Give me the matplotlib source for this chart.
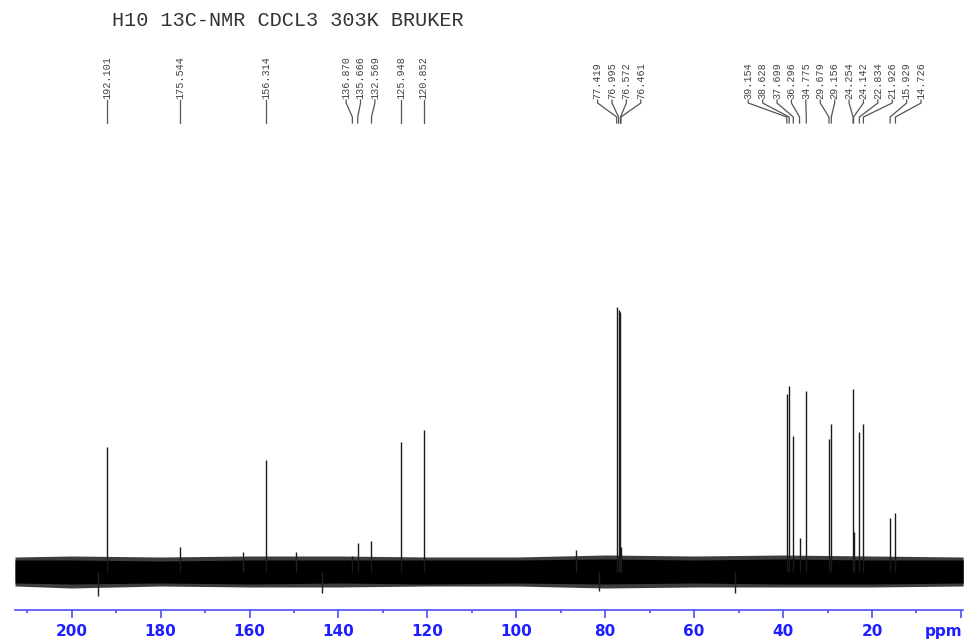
import matplotlib.pyplot as plt
from matplotlib.transforms import blended_transform_factory

# peak list (ppm) and peak heights (arbitrary units)
peak_ppm = [192.101, 175.544, 156.314, 136.870, 135.666, 132.569, 125.948, 120.852,
            77.419, 76.995, 76.572, 76.461,
            39.154, 38.628, 37.699, 36.296, 34.775, 29.679, 29.156,
            24.254, 24.142, 22.834, 21.926, 15.929, 14.726]
peak_height = [125, 25, 112, 16, 29, 31, 130, 142,
               265, 262, 260, 25,
               178, 186, 136, 34, 181, 133, 148,
               183, 40, 140, 148, 54, 59]

# baseline noise envelope
noise_ppm = [212.75, 200, 180, 160, 140, 120, 100, 80, 60, 40, 20, -0.5]
noise_hi = [12, 12, 11, 12, 12, 12, 12, 13, 12, 13, 12, 12]
noise_lo = [-11, -12, -11, -12, -11, -12, -11, -12, -11, -12, -12, -11]
noise_hi2 = [15, 16, 15, 16, 16, 15, 15, 17, 16, 17, 16, 15]
noise_lo2 = [-14, -16, -14, -15, -15, -14, -14, -16, -15, -15, -15, -14]

# a few isolated noise spikes
spike_ppm = [161.5, 149.5, 86.5, 194.1, 143.7, 81.4, 50.7]
spike_height = [20, 20, 22, -24, -21, -19, -21]

title = "H10 13C-NMR CDCL3 303K BRUKER"
tick_vals = [0, 20, 40, 60, 80, 100, 120, 140, 160, 180, 200]

W, H = 966, 641
fig = plt.figure(figsize=(W / 100, H / 100), dpi=100)
ax = fig.add_axes([15 / W, (H - 610) / H, (963 - 15) / W, (610 - 130) / H])
ax.set_xlim(212.75, -0.47)
ax.set_ylim(-38, 442)

blue = "#1e1eff"
axblue = "#4b4bff"

ax.fill_between(noise_ppm, noise_lo2, noise_hi2, color="#3c3c3c", lw=0)
ax.fill_between(noise_ppm, noise_lo, noise_hi, color="black", lw=0)
ax.vlines(spike_ppm, 0, spike_height, color="#222222", lw=1)
ax.vlines(peak_ppm, 0, peak_height, color="#1a1a1a", lw=1)

for s in ["top", "left", "right"]:
    ax.spines[s].set_visible(False)
ax.spines["bottom"].set_color(axblue)
ax.spines["bottom"].set_linewidth(1.2)
ax.set_yticks([])
ax.set_xticks(tick_vals)
ax.set_xticklabels([""] + [str(t) for t in tick_vals[1:]])
ax.set_xticks(range(10, 211, 20), minor=True)
ax.tick_params(axis="x", which="major", direction="out", length=6, width=1.2,
               color=axblue, labelcolor=blue, pad=4)
ax.tick_params(axis="x", which="minor", direction="out", length=2.5, width=1.2,
               color=axblue)
for lab in ax.get_xticklabels():
    lab.set_fontweight("bold")
    lab.set_fontsize(11)
    lab.set_fontfamily("DejaVu Sans")
# put "ppm" in line with the tick labels
ax.annotate("ppm", xy=(-0.3, 0), xycoords=("data", "axes fraction"),
            xytext=(0, -10), textcoords="offset points",
            ha="right", va="top", color=blue, fontsize=11, fontweight="bold")

# spread the peak labels so they don't overlap
gap = 14.4 / 4.446
order = sorted(range(len(peak_ppm)), key=lambda i: -peak_ppm[i])
clusters = [[i] for i in order]


def positions(cl):
    c = sum(peak_ppm[i] for i in cl) / len(cl)
    n = len(cl)
    return [c + gap * ((n - 1) / 2 - k) for k in range(n)]


merged = True
while merged:
    merged = False
    for j in range(len(clusters) - 1):
        if positions(clusters[j])[-1] - positions(clusters[j + 1])[0] < gap:
            clusters[j] = clusters[j] + clusters[j + 1]
            del clusters[j + 1]
            merged = True
            break

tr = blended_transform_factory(ax.transData, fig.transFigure)


def fy(px):
    return (H - px) / H


for cl in clusters:
    for i, lx in zip(cl, positions(cl)):
        px = peak_ppm[i]
        ax.plot([lx, lx, px, px], [fy(100), fy(103), fy(117), fy(123)], color="#555555",
                lw=0.9, transform=tr, clip_on=False)
        ax.text(lx, fy(99), "%.3f" % px, rotation=90, ha="center", va="bottom",
                transform=tr, fontsize=7.3, family="Liberation Mono", color="#444444")

fig.text(112 / W, fy(20), title, ha="left", va="center", fontsize=14.5,
         family="Liberation Mono", color="#333333")

fig.savefig("out.png", dpi=100)
